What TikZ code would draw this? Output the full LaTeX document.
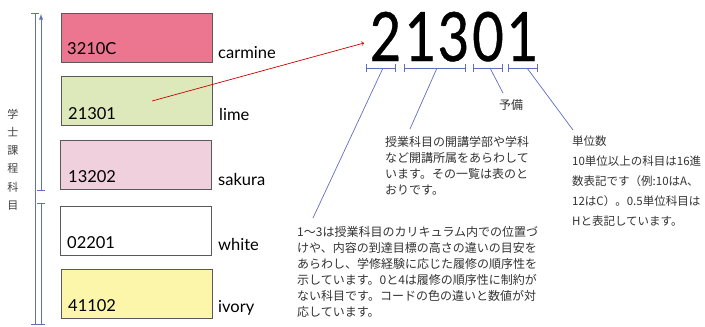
\documentclass[tikz,border=0pt]{standalone}
\usepackage{fontspec}
\setmainfont{Lato}
\newfontfamily\jpfont{Noto Sans CJK JP}
\newfontfamily\bigfont[FakeStretch=0.8,FakeBold=0.6]{Lato}
\usepackage{tikz}
\usetikzlibrary{arrows}
\definecolor{codecarmine}{RGB}{236,118,144}
\definecolor{codelime}{RGB}{221,232,187}
\definecolor{codesakura}{RGB}{239,208,220}
\definecolor{codeivory}{RGB}{252,246,170}
\definecolor{spanblue}{RGB}{96,110,192}
\definecolor{jptext}{RGB}{51,51,51}
\tikzset{
  codebox/.style={draw=black!65, line width=0.8pt, minimum width=151pt, minimum height=49pt, inner sep=0pt},
  code/.style={anchor=base west, inner sep=0pt, font=\fontsize{16.5}{16.5}\selectfont},
  colname/.style={anchor=base west, inner sep=0pt, font=\fontsize{16.5}{16.5}\selectfont},
  digit/.style={anchor=base, inner sep=0pt, font=\bigfont\fontsize{68}{68}\selectfont},
  jp/.style={anchor=north west, inner sep=0pt, align=left, text=jptext, font=\jpfont\fontsize{12}{16}\selectfont},
  span/.style={draw=spanblue, line width=0.9pt},
  lead/.style={draw=spanblue, line width=0.7pt}
}
\begin{document}
\begin{tikzpicture}[x=1pt, y=-1pt]
        \useasboundingbox[fill=white] (0,0) rectangle (705,327);

        \node[codebox, fill=codecarmine] (carmine) at (136.5,37.5) {};
        \node[codebox, fill=codelime] (lime) at (136.5,100.5) {};
        \node[codebox, fill=codesakura] (sakura) at (135.5,165) {};
        \node[codebox, fill=white] (white) at (135.5,230.5) {};
        \node[codebox, fill=codeivory] (ivory) at (136.5,293.5) {};

        \node[code] (c3210c) at (67,54) {3210C};
        \node[code] (c21301) at (68,119) {21301};
        \node[code] (c13202) at (68,182) {13202};
        \node[code] (c02201) at (67,248) {02201};
        \node[code] (c41102) at (68,311) {41102};

        \node[colname] (ncarmine) at (218,58) {carmine};
        \node[colname] (nlime) at (219,120) {lime};
        \node[colname] (nsakura) at (218,185) {sakura};
        \node[colname] (nwhite) at (218,250) {white};
        \node[colname] (nivory) at (218,312) {ivory};

        \node[text=black!75, align=center, inner sep=0pt, font=\jpfont\fontsize{11}{18.2}\selectfont] (kamoku) at (13,159.5) {学\\士\\課\\程\\科\\目};
        \coordinate (ltop) at (35,13);
        \coordinate (lbot) at (35,325);
        \coordinate (lmid1) at (41,191);
        \coordinate (larr) at (41,14);
        \coordinate (lmid2) at (41,203);
        \coordinate (lend) at (41,325);
        \draw[span, |-|] (ltop) -- (lbot);
        \draw[span, |-latex] (lmid1) -- (larr);
        \draw[span, |-|] (lmid2) -- (lend);

        \node[digit] (d1) at (385.5,61) {2};
        \node[digit] (d2) at (420.5,61) {1};
        \node[digit] (d3) at (453.5,61) {3};
        \node[digit] (d4) at (488,61) {0};
        \node[digit] (d5) at (522.5,61) {1};

        \coordinate (from) at (152,101);
        \coordinate (to) at (364,43);
        \draw[->, red!80!black, line width=0.7pt] (from) to (to);

        \coordinate (s1a) at (366,68);
        \coordinate (s1b) at (396,68);
        \coordinate (s2a) at (404,68);
        \coordinate (s2b) at (466,68);
        \coordinate (s3a) at (473,68);
        \coordinate (s3b) at (503,68);
        \coordinate (s4a) at (508,68);
        \coordinate (s4b) at (538,68);
        \draw[span, |-|] (s1a) -- (s1b);
        \draw[span, |-|] (s2a) -- (s2b);
        \draw[span, |-|] (s3a) -- (s3b);
        \draw[span, |-|] (s4a) -- (s4b);

        \node[jp] (level) at (297,226) {1〜3は授業科目のカリキュラム内での位置づ\\けや、内容の到達目標の高さの違いの目安を\\あらわし、学修経験に応じた履修の順序性を\\示しています。0と4は履修の順序性に制約が\\ない科目です。コードの色の違いと数値が対\\応しています。};
        \node[jp] (dept) at (385,136) {授業科目の開講学部や学科\\など開講所属をあらわして\\います。その一覧は表のと\\おりです。};
        \node[jp, anchor=center] (yobi) at (511,105) {予備};
        \node[jp, font=\jpfont\fontsize{11.5}{20}\selectfont] (units) at (572,135.5) {単位数\\10単位以上の科目は16進\\数表記です（例:10はA、\\12はC）。0.5単位科目は\\Hと表記しています。};

        \coordinate (m1) at (383,68);
        \coordinate (e1) at (313,218);
        \coordinate (m2) at (437,68);
        \coordinate (e2) at (410,129);
        \coordinate (m3) at (490,68);
        \coordinate (e3) at (503,93);
        \coordinate (m4) at (527,68);
        \coordinate (e4) at (573,130);
        \draw[lead] (m1) -- (e1);
        \draw[lead] (m2) -- (e2);
        \draw[lead] (m3) -- (e3);
        \draw[lead] (m4) -- (e4);
\end{tikzpicture}
\end{document}
